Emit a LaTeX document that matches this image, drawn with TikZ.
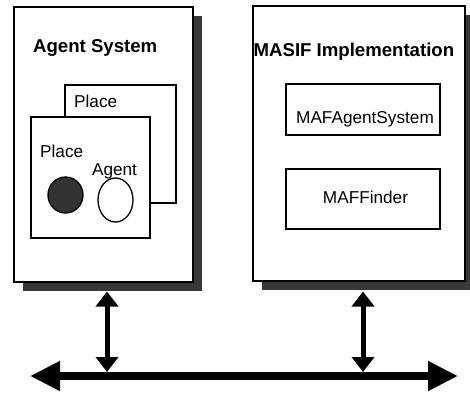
\documentclass[tikz,border=0pt]{standalone}
\usepackage{fontspec}
\setmainfont{Liberation Sans}
\usetikzlibrary{arrows.meta,shadows,shapes.geometric}
\begin{document}
\begin{tikzpicture}[x=1pt,y=-1pt,
  box/.style={draw=black,line width=1.3pt,fill=white,inner sep=0pt,minimum width=#1},
  sysbox/.style={box=0pt,drop shadow={shadow xshift=8.5pt,shadow yshift=-8.5pt,fill=black!78,opacity=1}},
  title/.style={font=\fontsize{18.6}{22}\selectfont\bfseries,inner sep=0pt},
  lbl/.style={font=\fontsize{17.2}{20}\selectfont,inner sep=0pt},
  blob/.style={draw=black,line width=1.3pt,ellipse,inner sep=0pt},
  vlink/.style={line width=5pt,{Triangle[length=15pt,width=22pt]}-{Triangle[length=15pt,width=22pt]}},
  bus/.style={line width=8pt,{Triangle[length=30pt,width=28pt]}-{Triangle[length=30pt,width=28pt]}}
]
\useasboundingbox (0,0) rectangle (470,392);
% left system
\node[sysbox,minimum width=179pt,minimum height=275pt] (as) at (103.5,144.5) {};
\node[title,anchor=base west] (ast) at (33,52.7) {Agent System};
\node[box=111pt,minimum height=118pt] (pb) at (120.5,144) {};
\node[lbl,anchor=base west] (pbt) at (74,107) {Place};
\node[box=119pt,minimum height=121pt] (pf) at (90.5,177.5) {};
\node[lbl,anchor=base west] (pft) at (40,157) {Place};
\node[lbl,anchor=base] (agt) at (114.5,175) {Agent};
\node[blob,fill=black!80,minimum width=35pt,minimum height=36pt] (e1) at (65.5,195) {};
\node[blob,fill=white,minimum width=35pt,minimum height=44pt] (e2) at (115.5,200) {};
% right system
\node[sysbox,minimum width=212pt,minimum height=275pt] (ms) at (359,143.5) {};
\node[title,anchor=base west] (mst) at (253.5,56) {MASIF Implementation};
\node[box=154pt,minimum height=51pt] (mafa) at (363,109.5) {};
\node[lbl,anchor=base] (mafat) at (365,123) {MAFAgentSystem};
\node[box=154pt,minimum height=60pt] (maff) at (363,199) {};
\node[lbl,anchor=base] (mafft) at (365.5,203) {MAFFinder};
% bus
\coordinate (busl) at (30,376);
\coordinate (busr) at (458,376);
\coordinate (j1) at (107,372);
\coordinate (j2) at (363,372);
\coordinate (t1) at (107,291.5);
\coordinate (t2) at (363,291.5);
\draw[bus] (busl) -- (busr);
\draw[vlink] (t1) -- (j1);
\draw[vlink] (t2) -- (j2);
\end{tikzpicture}
\end{document}
